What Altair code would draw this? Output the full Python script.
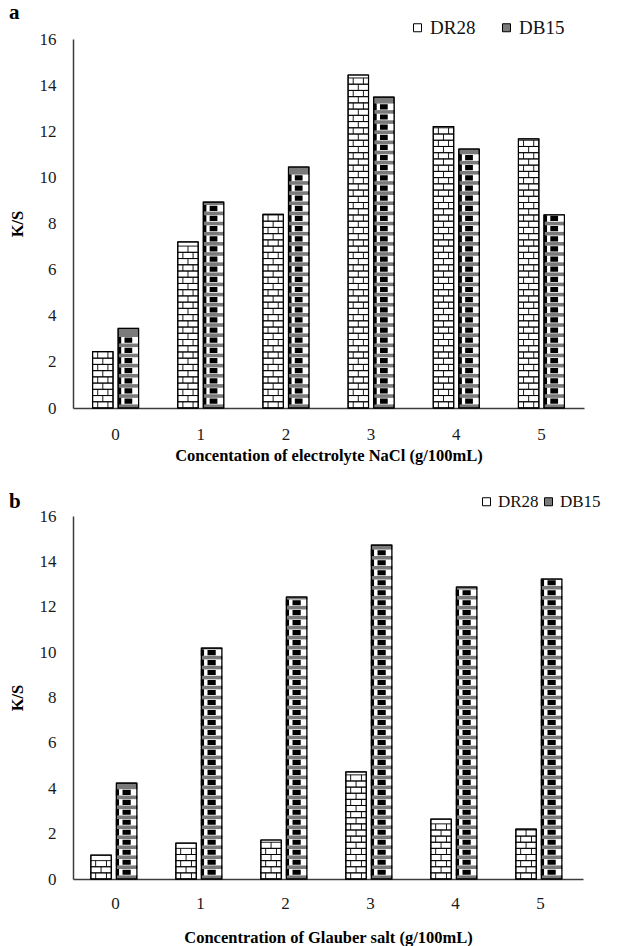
import altair as alt
import pandas as pd

# ---- data ----
concentrations = ["0", "1", "2", "3", "4", "5"]
series = ["DR28", "DB15"]
nacl_dr28 = [2.45, 7.20, 8.40, 14.44, 12.20, 11.67]
nacl_db15 = [3.45, 8.93, 10.45, 13.48, 11.23, 8.37]
glauber_dr28 = [1.05, 1.58, 1.72, 4.72, 2.64, 2.20]
glauber_db15 = [4.23, 10.18, 12.43, 14.72, 12.87, 13.22]
y_ticks = [0, 2, 4, 6, 8, 10, 12, 14, 16]

FONT = "Liberation Serif"
AXIS_COLOR = "#3c3c3c"


def panel(dr, db, letter, xtitle, width, height, pad_outer, pad_off, bar_px,
          leg_x, leg_y, leg_gap, leg_font, x_label_pad, x_title_pad, title_offset):
    df = pd.DataFrame({
        "conc": concentrations * 2,
        "series": ["DR28"] * len(dr) + ["DB15"] * len(db),
        "value": dr + db,
    })
    px_per_unit = height / 16.0
    unit = bar_px / 2.0

    x = alt.X("conc:N", sort=concentrations,
              scale=alt.Scale(paddingInner=pad_outer, paddingOuter=pad_outer / 2),
              axis=alt.Axis(title=xtitle, labelAngle=0, ticks=False,
                            labelPadding=x_label_pad, titlePadding=x_title_pad))
    xo = alt.XOffset("series:N", sort=series,
                     scale=alt.Scale(domain=series, paddingInner=pad_off, paddingOuter=0))
    yscale = alt.Scale(domain=[0, 16], nice=False)
    y = alt.Y("value:Q", scale=yscale,
              axis=alt.Axis(title="K/S", values=y_ticks, ticks=False, labelPadding=17,
                            titlePadding=14))

    base = alt.Chart(df)

    bars = base.mark_bar(stroke="black", strokeWidth=1).encode(
        x=x, xOffset=xo, y=y,
        color=alt.Color("series:N", sort=series,
                        scale=alt.Scale(domain=series, range=["#ffffff", "#7a7a7a"]),
                        legend=alt.Legend(orient="none", legendX=leg_x, legendY=leg_y,
                                          direction="horizontal", title=None,
                                          symbolType="square", symbolSize=64,
                                          symbolStrokeColor="black", symbolStrokeWidth=1,
                                          labelFont=FONT, labelFontSize=leg_font,
                                          labelColor="#111", labelOffset=3,
                                          columnPadding=leg_gap)),
    )

    # brick pattern rows for DR28
    brick_step = 0.27
    h = round(brick_step * px_per_unit / unit / 2, 3)
    brick_even = f"M-1,{h}H1M-1,-{h}H1M-0.5,{h}V-{h}M0.5,{h}V-{h}"
    brick_odd = f"M-1,{h}H1M-1,-{h}H1M0,{h}V-{h}"

    def brick(parity, path):
        return base.transform_filter("datum.series == 'DR28'").transform_calculate(
            n=f"floor(datum.value / {brick_step})"
        ).transform_calculate(
            k="sequence(0, datum.n)"
        ).transform_flatten(["k"]).transform_calculate(
            yc=f"(datum.k + 0.5) * {brick_step}"
        ).transform_filter(f"datum.k % 2 == {parity}").mark_point(
            shape=path, size=bar_px ** 2, filled=False, color="black",
            strokeWidth=0.9, opacity=1
        ).encode(x=x, xOffset=xo, y=alt.Y("yc:Q", scale=yscale))

    # plaid pattern for DB15: white cells with black blocks over a grey base
    db_step = 0.44
    c = db_step * px_per_unit / unit / 2  # half cell height (normalised)
    band = 3.6 / unit                      # grey band thickness (normalised)
    top = -c
    bot = c - band
    white_path = f"M-0.8,{bot:.3f}H1V{top:.3f}H-0.8Z"
    mid = (top + bot) / 2
    bh = 0.8 * (bot - top) / 2
    block_path = (f"M-0.38,{mid - bh:.3f}H0.38V{mid + bh:.3f}H-0.38Z"
                  f"M-1,{top:.3f}H-0.7V{bot:.3f}H-1Z")

    db_rows = base.transform_filter("datum.series == 'DB15'").transform_calculate(
        n=f"floor(datum.value / {db_step})"
    ).transform_calculate(
        k="sequence(0, datum.n)"
    ).transform_flatten(["k"]).transform_calculate(
        yk=f"(datum.k + 0.5) * {db_step}"
    )

    whites = db_rows.mark_point(shape=white_path, size=bar_px ** 2, filled=True,
                                color="white", opacity=1, strokeWidth=0).encode(
        x=x, xOffset=xo, y=alt.Y("yk:Q", scale=yscale))

    blocks = db_rows.mark_point(shape=block_path, size=bar_px ** 2, filled=True,
                                color="black", opacity=1, strokeWidth=0).encode(
        x=x, xOffset=xo, y=alt.Y("yk:Q", scale=yscale))

    outline = base.mark_bar(fillOpacity=0, stroke="black", strokeWidth=1.2).encode(
        x=x, xOffset=xo, y=y)

    return alt.layer(
        bars, brick(0, brick_even), brick(1, brick_odd), whites, blocks, outline
    ).properties(
        width=width, height=height,
        title=alt.TitleParams(letter, anchor="start", frame="bounds", font=FONT,
                              fontSize=21, fontWeight="bold", color="black",
                              offset=title_offset),
    )


panel_a = panel(nacl_dr28, nacl_db15, "a", "Concentation of electrolyte NaCl (g/100mL)",
                511, 369, 0.46, 0.2, 20.4, 335, -21, 21, 19, 18, 5, -5)
panel_b = panel(glauber_dr28, glauber_db15, "b", "Concentration of Glauber salt (g/100mL)",
                510, 363, 0.42, 0.22, 21.6, 405, -23, 1, 17, 16, 18, -19)

chart = alt.vconcat(panel_a, panel_b, spacing=27).resolve_scale(
    color="independent"
).resolve_legend(color="independent").properties(
    padding={"left": 9, "top": 2, "right": 2, "bottom": 2}
).configure_view(stroke=None).configure_axis(
    grid=False, domainColor=AXIS_COLOR, domainWidth=1.5,
    labelFont=FONT, labelFontSize=17, labelColor="#1a1a1a",
    titleFont=FONT, titleFontSize=16.5, titleFontWeight="bold", titleColor="black",
).configure_legend(labelFont=FONT)

chart.save("out.html", embed_options={"renderer": "svg", "actions": False})
